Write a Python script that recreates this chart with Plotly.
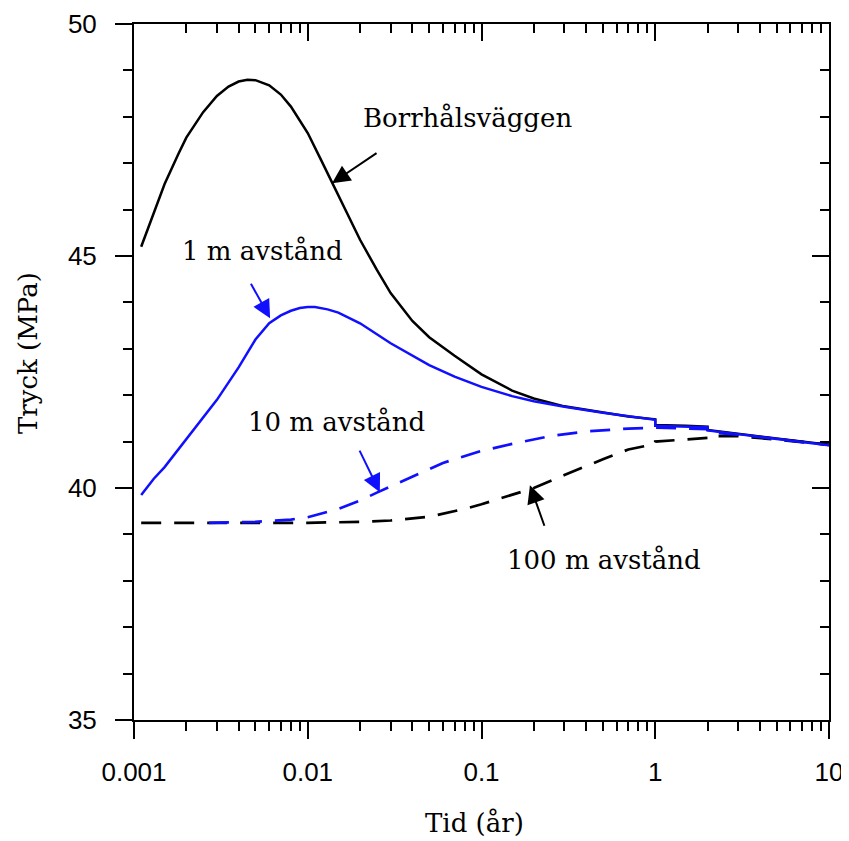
import plotly.graph_objects as go
import numpy as np

# ---------------- data ----------------
# Borrhålsväggen (solid black)
t_wall = [0.0011, 0.0013, 0.0015, 0.0018, 0.002, 0.0025, 0.003, 0.0035, 0.004, 0.0045, 0.005,
          0.006, 0.007, 0.008, 0.01, 0.012, 0.015, 0.02, 0.025, 0.03, 0.04, 0.05, 0.07, 0.1,
          0.15, 0.2, 0.3, 0.5, 0.7, 1.0, 1.0, 1.5, 2.0, 2.0, 3.0, 5.0, 10.0]
p_wall = [45.2, 45.95, 46.55, 47.2, 47.55, 48.1, 48.45, 48.65, 48.76, 48.8, 48.79,
          48.68, 48.48, 48.22, 47.65, 47.05, 46.3, 45.35, 44.7, 44.2, 43.6, 43.25, 42.85, 42.45,
          42.1, 41.93, 41.76, 41.62, 41.54, 41.48, 41.36, 41.34, 41.32, 41.25, 41.17, 41.06, 40.93]

# 1 m avstånd (solid blue)
t_1m = [0.0011, 0.0013, 0.0015, 0.002, 0.0025, 0.003, 0.004, 0.005, 0.006, 0.007, 0.008,
        0.009, 0.01, 0.011, 0.013, 0.015, 0.02, 0.03, 0.05, 0.07, 0.1, 0.15, 0.2, 0.3, 0.5,
        0.7, 1.0, 1.0, 1.5, 2.0, 2.0, 3.0, 5.0, 10.0]
p_1m = [39.85, 40.2, 40.45, 41.05, 41.5, 41.9, 42.6, 43.2, 43.55, 43.72, 43.82,
        43.88, 43.9, 43.9, 43.85, 43.78, 43.55, 43.12, 42.65, 42.4, 42.18, 41.98, 41.87, 41.75, 41.62,
        41.54, 41.47, 41.34, 41.33, 41.31, 41.24, 41.16, 41.05, 40.92]

# 10 m avstånd (dashed blue)
t_10m = [0.0027, 0.005, 0.008, 0.01, 0.015, 0.02, 0.025, 0.04, 0.06, 0.1, 0.15, 0.25,
         0.4, 0.7, 1.0, 1.0, 2.0, 2.0, 3.0, 5.0, 10.0]
p_10m = [39.25, 39.27, 39.32, 39.37, 39.55, 39.73, 39.9, 40.25, 40.54, 40.8, 40.95, 41.12,
         41.22, 41.28, 41.3, 41.3, 41.27, 41.2, 41.15, 41.05, 40.93]

# 100 m avstånd (dashed black)
t_100m = [0.0011, 0.005, 0.01, 0.02, 0.03, 0.05, 0.08, 0.1, 0.15, 0.2, 0.3, 0.4, 0.5,
          0.7, 1.0, 1.0, 2.0, 2.0, 3.0, 5.0, 10.0]
p_100m = [39.25, 39.25, 39.25, 39.27, 39.3, 39.38, 39.55, 39.65, 39.85, 40.0, 40.28, 40.48, 40.62,
          40.83, 40.95, 41.0, 41.08, 41.12, 41.12, 41.04, 40.93]

x_major = [0.001, 0.01, 0.1, 1, 10]
x_major_text = ["0.001", "0.01", "0.1", "1", "10"]
x_minor = [m * d for d in [0.001, 0.01, 0.1, 1] for m in range(2, 10)]
y_major = [35, 40, 45, 50]
y_minor = [v for v in range(35, 51) if v % 5 != 0]

# ---------------- figure ----------------
OFF = 8                      # page body margin
W, H = 841, 833
L, R, T, B = 126, 20, 16, 121
PW, PH = W - L - R, H - T - B

def px(xp, yp):
    # page pixel -> paper coords
    return (xp - OFF - L) / PW, (H - B - (yp - OFF)) / PH

fig = go.Figure()
fig.add_trace(go.Scatter(x=t_100m, y=p_100m, mode="lines",
                         line=dict(color="black", width=2.7, dash="20px,13px"), showlegend=False))
fig.add_trace(go.Scatter(x=t_10m, y=p_10m, mode="lines",
                         line=dict(color="#1010ff", width=2.7, dash="20px,13px"), showlegend=False))
fig.add_trace(go.Scatter(x=t_wall, y=p_wall, mode="lines",
                         line=dict(color="black", width=2.5), showlegend=False))
fig.add_trace(go.Scatter(x=t_1m, y=p_1m, mode="lines",
                         line=dict(color="#1010ff", width=2.5), showlegend=False))
# dummy trace for mirrored (inside) ticks
fig.add_trace(go.Scatter(x=[1], y=[40], xaxis="x2", yaxis="y2", mode="markers",
                         marker=dict(opacity=0), showlegend=False, hoverinfo="skip"))

tickfont = dict(family="Liberation Sans, Arial", size=26, color="black")
serif = "DejaVu Serif"

common_x = dict(type="log", range=[-3, 1], showgrid=False, zeroline=False, automargin=False,
                showline=True, linecolor="black", linewidth=2,
                tickmode="array", tickvals=x_major, ticktext=x_major_text,
                tickcolor="black", tickwidth=2, ticklen=17,
                minor=dict(tickmode="array", tickvals=x_minor, ticklen=9,
                           tickcolor="black", tickwidth=2))
common_y = dict(range=[35, 50], showgrid=False, zeroline=False, automargin=False,
                showline=True, linecolor="black", linewidth=2,
                tickmode="array", tickvals=y_major,
                tickcolor="black", tickwidth=2, ticklen=17,
                minor=dict(tickmode="array", tickvals=y_minor, ticklen=9,
                           tickcolor="black", tickwidth=2))

xa = dict(common_x); xa.update(ticks="outside", tickfont=tickfont, ticklabelstandoff=11)
xa["minor"] = dict(common_x["minor"], ticks="outside")
ya = dict(common_y); ya.update(ticks="outside", tickfont=tickfont, ticklabelstandoff=13)
ya["minor"] = dict(common_y["minor"], ticks="outside")
xa2 = dict(common_x); xa2.update(ticks="inside", showticklabels=False, side="top",
                                 overlaying="x", anchor="y2")
xa2["minor"] = dict(common_x["minor"], ticks="inside")
ya2 = dict(common_y); ya2.update(ticks="inside", showticklabels=False, side="right",
                                 overlaying="y", anchor="x2")
ya2["minor"] = dict(common_y["minor"], ticks="inside")

fig.update_layout(width=W, height=H, margin=dict(l=L, r=R, t=T, b=B, autoexpand=False),
                  paper_bgcolor="white", plot_bgcolor="white",
                  xaxis=xa, yaxis=ya, xaxis2=xa2, yaxis2=ya2)

annos = []
# text labels
labels = [("Borrhålsväggen", 467, 118), ("1 m avstånd", 262, 251),
          ("10 m avstånd", 336, 422), ("100 m avstånd", 604, 560)]
for txt, xp, yp in labels:
    xx, yy = px(xp, yp)
    annos.append(dict(text=txt, x=xx, y=yy, xref="paper", yref="paper",
                      showarrow=False, xanchor="center", yanchor="middle",
                      font=dict(family=serif, size=26, color="black")))
# arrows (head in data coords, tail as pixel offset)
arrows = [(0.0138, 46.57, 46, -31, "black"), (0.00607, 43.66, -20, -36, "#1010ff"),
          (0.026, 39.91, -21, -43, "#1010ff"), (0.19, 40.06, 15, 42, "black")]
for tx, py, ax, ay, col in arrows:
    annos.append(dict(text="", x=np.log10(tx), y=py, xref="x", yref="y",
                      showarrow=True, arrowhead=2, arrowsize=1.8, arrowwidth=2,
                      arrowcolor=col, ax=ax, ay=ay, standoff=0))
# axis titles
xx, yy = px(474, 823)
annos.append(dict(text="Tid (år)", x=xx, y=yy, xref="paper", yref="paper", showarrow=False,
                  xanchor="center", yanchor="middle",
                  font=dict(family=serif, size=26, color="black")))
xx, yy = px(28, 353)
annos.append(dict(text="Tryck (MPa)", x=xx, y=yy, xref="paper", yref="paper", showarrow=False,
                  xanchor="center", yanchor="middle", textangle=-90,
                  font=dict(family=serif, size=26, color="black")))
fig.update_layout(annotations=annos)

fig.write_html("out.html")
